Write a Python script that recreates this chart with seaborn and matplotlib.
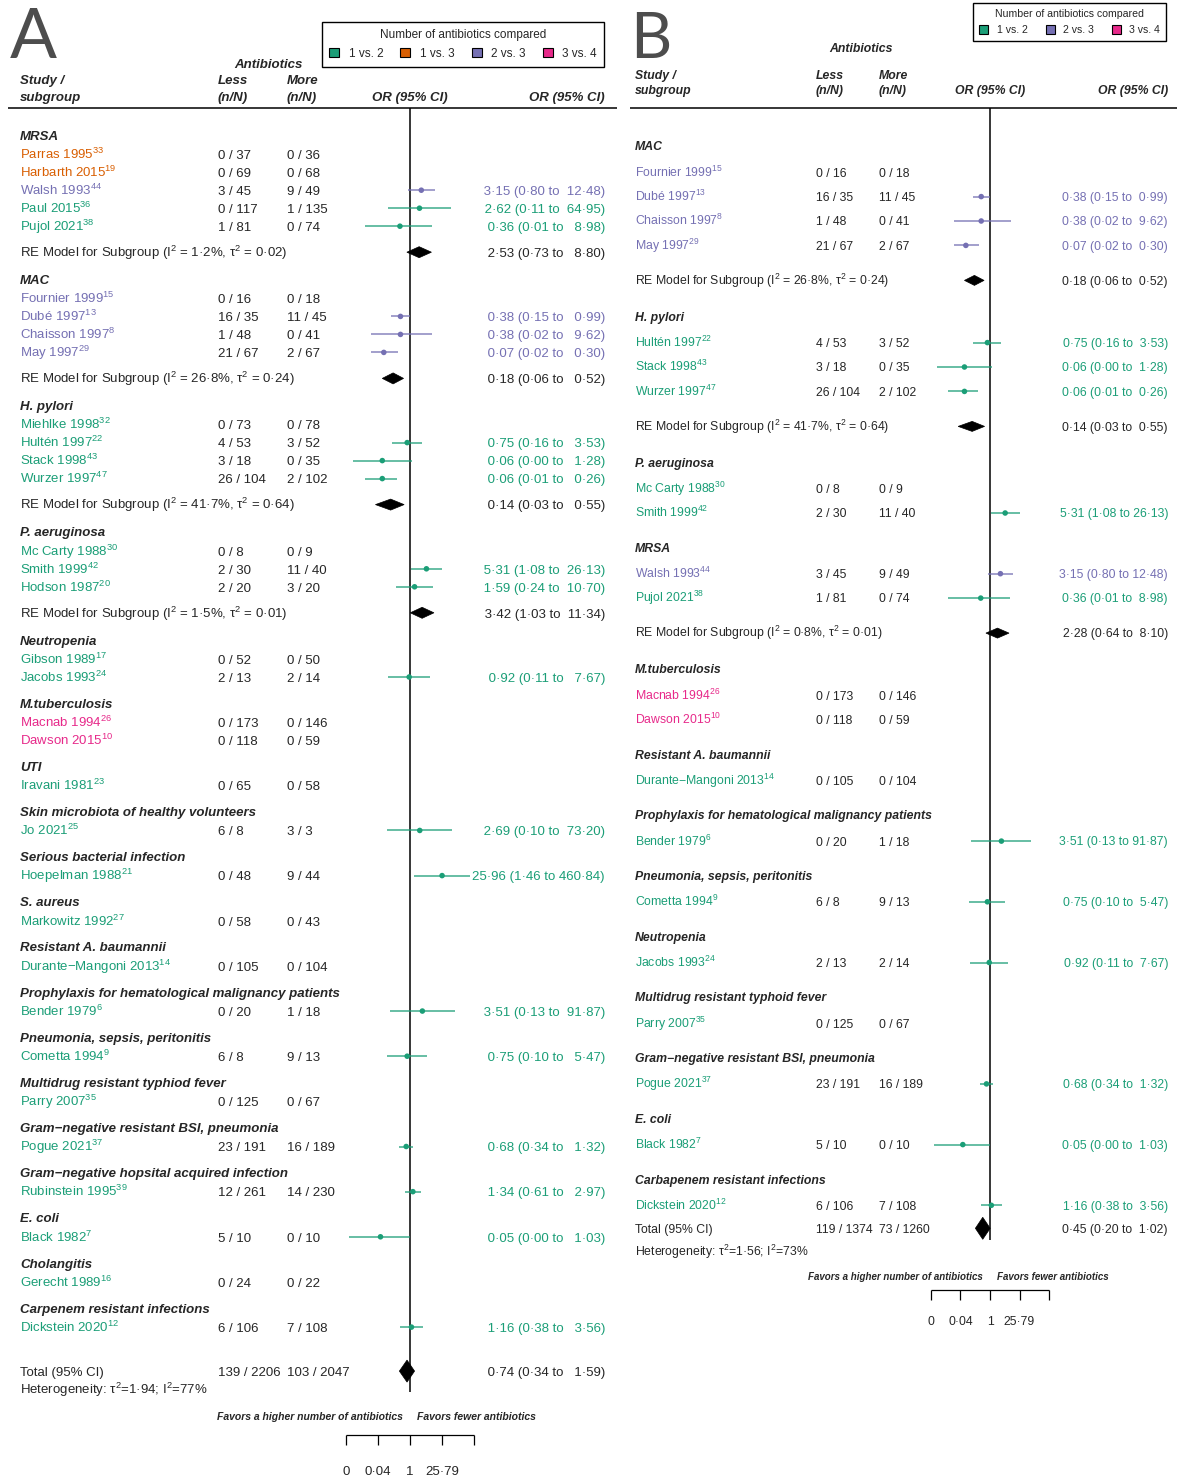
import numpy as np
import pandas as pd
import matplotlib
matplotlib.use("Agg")
import matplotlib.pyplot as plt
from matplotlib.patches import Polygon, Patch
import seaborn as sns

sns.set_style('white')
plt.rcParams['font.family'] = ['Liberation Sans', 'DejaVu Sans']
plt.rcParams['mathtext.fontset'] = 'custom'
plt.rcParams['mathtext.rm'] = 'Liberation Sans'
plt.rcParams['mathtext.default'] = 'regular'

nan = np.nan
comp_colors = {"1 vs. 2": "#1b9e77", "1 vs. 3": "#d95f02",
               "2 vs. 3": "#7570b3", "3 vs. 4": "#e7298a"}

# ---------------- panel A data ----------------
a_sub = ["MRSA", "MAC", "H. pylori", "P. aeruginosa", "Neutropenia", "M.tuberculosis", "UTI",
         "Skin microbiota of healthy volunteers", "Serious bacterial infection", "S. aureus",
         "Resistant A. baumannii", "Prophylaxis for hematological malignancy patients",
         "Pneumonia, sepsis, peritonitis", "Multidrug resistant typhiod fever",
         "Gram−negative resistant BSI, pneumonia", "Gram−negative hopsital acquired infection",
         "E. coli", "Cholangitis", "Carpenem resistant infections"]
a_study = ["Parras 1995", "Harbarth 2015", "Walsh 1993", "Paul 2015", "Pujol 2021",
           "Fournier 1999", "Dubé 1997", "Chaisson 1997", "May 1997",
           "Miehlke 1998", "Hultén 1997", "Stack 1998", "Wurzer 1997",
           "Mc Carty 1988", "Smith 1999", "Hodson 1987", "Gibson 1989", "Jacobs 1993",
           "Macnab 1994", "Dawson 2015", "Iravani 1981", "Jo 2021", "Hoepelman 1988",
           "Markowitz 1992", "Durante−Mangoni 2013", "Bender 1979", "Cometta 1994",
           "Parry 2007", "Pogue 2021", "Rubinstein 1995", "Black 1982", "Gerecht 1989",
           "Dickstein 2020"]
a_group = [0, 0, 0, 0, 0, 1, 1, 1, 1, 2, 2, 2, 2, 3, 3, 3, 4, 4, 5, 5, 6, 7, 8, 9, 10,
           11, 12, 13, 14, 15, 16, 17, 18]
a_ref = [33, 19, 44, 36, 38, 15, 13, 8, 29, 32, 22, 43, 47, 30, 42, 20, 17, 24, 26, 10,
         23, 25, 21, 27, 14, 6, 9, 35, 37, 39, 7, 16, 12]
a_comp = ["1 vs. 3", "1 vs. 3", "2 vs. 3", "1 vs. 2", "1 vs. 2",
          "2 vs. 3", "2 vs. 3", "2 vs. 3", "2 vs. 3",
          "1 vs. 2", "1 vs. 2", "1 vs. 2", "1 vs. 2", "1 vs. 2", "1 vs. 2", "1 vs. 2",
          "1 vs. 2", "1 vs. 2", "3 vs. 4", "3 vs. 4"] + ["1 vs. 2"] * 13
a_less_n = [0, 0, 3, 0, 1, 0, 16, 1, 21, 0, 4, 3, 26, 0, 2, 2, 0, 2, 0, 0, 0, 6, 0, 0, 0,
            0, 6, 0, 23, 12, 5, 0, 6]
a_less_N = [37, 69, 45, 117, 81, 16, 35, 48, 67, 73, 53, 18, 104, 8, 30, 20, 52, 13, 173,
            118, 65, 8, 48, 58, 105, 20, 8, 125, 191, 261, 10, 24, 106]
a_more_n = [0, 0, 9, 1, 0, 0, 11, 0, 2, 0, 3, 0, 2, 0, 11, 3, 0, 2, 0, 0, 0, 3, 9, 0, 0,
            1, 9, 0, 16, 14, 0, 0, 7]
a_more_N = [36, 68, 49, 135, 74, 18, 45, 41, 67, 78, 52, 35, 102, 9, 40, 20, 50, 14, 146,
            59, 58, 3, 44, 43, 104, 18, 13, 67, 189, 230, 10, 22, 108]
a_or = [nan, nan, 3.15, 2.62, 0.36, nan, 0.38, 0.38, 0.07, nan, 0.75, 0.06, 0.06, nan,
        5.31, 1.59, nan, 0.92, nan, nan, nan, 2.69, 25.96, nan, nan, 3.51, 0.75, nan,
        0.68, 1.34, 0.05, nan, 1.16]
a_lo = [nan, nan, 0.80, 0.11, 0.01, nan, 0.15, 0.02, 0.02, nan, 0.16, 0.003, 0.01, nan,
        1.08, 0.24, nan, 0.11, nan, nan, nan, 0.10, 1.46, nan, nan, 0.13, 0.10, nan,
        0.34, 0.61, 0.002, nan, 0.38]
a_hi = [nan, nan, 12.48, 64.95, 8.98, nan, 0.99, 9.62, 0.30, nan, 3.53, 1.28, 0.26, nan,
        26.13, 10.70, nan, 7.67, nan, nan, nan, 73.20, 460.84, nan, nan, 91.87, 5.47, nan,
        1.32, 2.97, 1.03, nan, 3.56]
a_re_group = [0, 1, 2, 3]
a_re_i2 = [1.2, 26.8, 41.7, 1.5]
a_re_tau2 = [0.02, 0.24, 0.64, 0.01]
a_re_or = [2.53, 0.18, 0.14, 3.42]
a_re_lo = [0.73, 0.06, 0.03, 1.03]
a_re_hi = [8.80, 0.52, 0.55, 11.34]
a_total = dict(less=(139, 2206), more=(103, 2047), est=0.74, lo=0.34, hi=1.59, tau2=1.94, i2=77)

# ---------------- panel B data ----------------
b_sub = ["MAC", "H. pylori", "P. aeruginosa", "MRSA", "M.tuberculosis", "Resistant A. baumannii",
         "Prophylaxis for hematological malignancy patients", "Pneumonia, sepsis, peritonitis",
         "Neutropenia", "Multidrug resistant typhoid fever",
         "Gram−negative resistant BSI, pneumonia", "E. coli", "Carbapenem resistant infections"]
b_study = ["Fournier 1999", "Dubé 1997", "Chaisson 1997", "May 1997", "Hultén 1997",
           "Stack 1998", "Wurzer 1997", "Mc Carty 1988", "Smith 1999", "Walsh 1993",
           "Pujol 2021", "Macnab 1994", "Dawson 2015", "Durante−Mangoni 2013", "Bender 1979",
           "Cometta 1994", "Jacobs 1993", "Parry 2007", "Pogue 2021", "Black 1982",
           "Dickstein 2020"]
b_group = [0, 0, 0, 0, 1, 1, 1, 2, 2, 3, 3, 4, 4, 5, 6, 7, 8, 9, 10, 11, 12]
b_ref = [15, 13, 8, 29, 22, 43, 47, 30, 42, 44, 38, 26, 10, 14, 6, 9, 24, 35, 37, 7, 12]
b_comp = ["2 vs. 3"] * 4 + ["1 vs. 2"] * 5 + ["2 vs. 3", "1 vs. 2", "3 vs. 4", "3 vs. 4"] + \
         ["1 vs. 2"] * 8
b_less_n = [0, 16, 1, 21, 4, 3, 26, 0, 2, 3, 1, 0, 0, 0, 0, 6, 2, 0, 23, 5, 6]
b_less_N = [16, 35, 48, 67, 53, 18, 104, 8, 30, 45, 81, 173, 118, 105, 20, 8, 13, 125, 191,
            10, 106]
b_more_n = [0, 11, 0, 2, 3, 0, 2, 0, 11, 9, 0, 0, 0, 0, 1, 9, 2, 0, 16, 0, 7]
b_more_N = [18, 45, 41, 67, 52, 35, 102, 9, 40, 49, 74, 146, 59, 104, 18, 13, 14, 67, 189,
            10, 108]
b_or = [nan, 0.38, 0.38, 0.07, 0.75, 0.06, 0.06, nan, 5.31, 3.15, 0.36, nan, nan, nan,
        3.51, 0.75, 0.92, nan, 0.68, 0.05, 1.16]
b_lo = [nan, 0.15, 0.02, 0.02, 0.16, 0.003, 0.01, nan, 1.08, 0.80, 0.01, nan, nan, nan,
        0.13, 0.10, 0.11, nan, 0.34, 0.002, 0.38]
b_hi = [nan, 0.99, 9.62, 0.30, 3.53, 1.28, 0.26, nan, 26.13, 12.48, 8.98, nan, nan, nan,
        91.87, 5.47, 7.67, nan, 1.32, 1.03, 3.56]
b_re_group = [0, 1, 3]
b_re_i2 = [26.8, 41.7, 0.8]
b_re_tau2 = [0.24, 0.64, 0.01]
b_re_or = [0.18, 0.14, 2.28]
b_re_lo = [0.06, 0.03, 0.64]
b_re_hi = [0.52, 0.55, 8.10]
b_total = dict(less=(119, 1374), more=(73, 1260), est=0.45, lo=0.20, hi=1.02, tau2=1.56, i2=73)

tick_log = [-6.5, -3.25, 0, 3.25, 6.5]
tick_labels = ["0", "0·04", "1", "25·79", ""]

W, H = 1177, 1477
fig = plt.figure(figsize=(W / 100, H / 100), dpi=100)
bg = fig.add_axes([0, 0, 1, 1])
bg.set_xlim(0, W)
bg.set_ylim(H, 0)
bg.axis('off')


def f2(v):
    return f"{v:.2f}".replace(".", "·")


def f1(v):
    return f"{v:.1f}".replace(".", "·")


def draw_panel(P, L):
    fs = L['fs']
    base = 0.36 * fs * 100 / 72
    half = 80
    fax = fig.add_axes([(L['center'] - half) / W, 0, 2 * half / W, 1])
    fax.patch.set_alpha(0)

    # row order
    rows = []
    group = np.array(P['group'])
    for g in range(len(P['sub'])):
        rows.append(("head", g))
        for i in np.where(group == g)[0]:
            rows.append(("study", i))
        if g in P['re_group']:
            rows.append(("re", P['re_group'].index(g)))
    rows.append(("total", 0))
    rows.append(("het", 0))
    ys = []
    y, prev = L['y0'], None
    for kind, _ in rows:
        if prev is not None:
            y += L['steps'][(prev, kind)]
        ys.append(y)
        prev = kind

    # widths for CI column
    ests = [v for v in P['or'] if not np.isnan(v)] + P['re_or'] + [P['total']['est']]
    los = [v for v in P['lo'] if not np.isnan(v)] + P['re_lo'] + [P['total']['lo']]
    his = [v for v in P['hi'] if not np.isnan(v)] + P['re_hi'] + [P['total']['hi']]
    w1 = max(len(f2(v)) for v in ests)
    w2 = max(len(f2(v)) for v in los)
    w3 = max(len(f2(v)) for v in his)

    def ci_text(e, l, h):
        return f"{f2(e):>{w1}} ({f2(l):>{w2}} to {f2(h):>{w3}})"

    def txt(x, y, s, **kw):
        kw.setdefault('fontsize', fs)
        bg.text(x, y + base, s, va='baseline', **kw)

    def diamond(y, e, l, h, hh):
        fax.add_patch(Polygon([(l, y), (e, y - hh), (h, y), (e, y + hh)], closed=True,
                              facecolor='black', edgecolor='black', lw=0.5, zorder=4))

    pts = []
    for (kind, i), y in zip(rows, ys):
        if kind == "head":
            txt(L['x_study'], y, P['sub'][i], fontweight='bold', style='italic')
        elif kind == "study":
            col = comp_colors[P['comp'][i]]
            txt(L['x_study'], y, f"{P['study'][i]}$^{{{P['ref'][i]}}}$", color=col)
            txt(L['x_less'], y, f"{P['less_n'][i]} / {P['less_N'][i]}")
            txt(L['x_more'], y, f"{P['more_n'][i]} / {P['more_N'][i]}")
            if not np.isnan(P['or'][i]):
                fax.hlines(y, P['lo'][i], P['hi'][i], color=col, lw=1.1, alpha=0.85, zorder=2)
                pts.append((P['or'][i], y, P['comp'][i]))
                txt(L['x_ci'], y, ci_text(P['or'][i], P['lo'][i], P['hi'][i]), color=col,
                    ha='right')
        elif kind == "re":
            txt(L['x_study'], y, f"RE Model for Subgroup (I$^2$ = {f1(P['re_i2'][i])}%, "
                                 f"τ$^2$ = {f2(P['re_tau2'][i])})")
            diamond(y, P['re_or'][i], P['re_lo'][i], P['re_hi'][i], L['re_h'])
            txt(L['x_ci'], y, ci_text(P['re_or'][i], P['re_lo'][i], P['re_hi'][i]), ha='right')
        elif kind == "total":
            T = P['total']
            txt(L['x_study'], y, "Total (95% CI)")
            txt(L['x_less'], y, f"{T['less'][0]} / {T['less'][1]}")
            txt(L['x_more'], y, f"{T['more'][0]} / {T['more'][1]}")
            diamond(y, T['est'], T['lo'], T['hi'], L['tot_h'])
            txt(L['x_ci'], y, ci_text(T['est'], T['lo'], T['hi']), ha='right')
        else:
            T = P['total']
            txt(L['x_study'], y, f"Heterogeneity: τ$^2$={f2(T['tau2'])}; I$^2$={T['i2']}%")

    df = pd.DataFrame(pts, columns=['or', 'y', 'comp'])
    sns.scatterplot(data=df, x='or', y='y', hue='comp', palette=comp_colors, s=16,
                    edgecolor='none', legend=False, ax=fax, zorder=3)
    fax.set_xscale('log')
    span = half / L['px_per']
    fax.set_xlim(np.exp(-span), np.exp(span))
    fax.set_ylim(H, 0)
    fax.axis('off')

    # reference line at OR = 1
    fax.vlines(1, 108, L['vline_end'], color='black', lw=1.1, zorder=1)

    # bottom axis
    tv = np.exp(tick_log)
    ya = L['y_axis']
    fax.hlines(ya, tv[0], tv[-1], color='black', lw=0.9)
    fax.vlines(tv, ya, ya + 10, color='black', lw=0.9)
    for t, lab in zip(tv, tick_labels):
        fax.text(t, L['y_ticklab'] + base, lab, ha='center', va='baseline', fontsize=fs)
    bg.text(L['center'] - 7, L['y_favor'], "Favors a higher number of antibiotics",
            ha='right', va='center', fontsize=L['fs_favor'], fontweight='bold', style='italic')
    bg.text(L['center'] + 7, L['y_favor'], "Favors fewer antibiotics",
            ha='left', va='center', fontsize=L['fs_favor'], fontweight='bold', style='italic')

    # header
    hb = dict(fontweight='bold', style='italic')
    txt(L['center_ab'], L['y_ab'], "Antibiotics", ha='center', **hb)
    txt(L['x_study'], L['y_h1'], "Study /", **hb)
    txt(L['x_study'], L['y_h2'], "subgroup", **hb)
    txt(L['x_less'], L['y_h1'], "Less", **hb)
    txt(L['x_less'], L['y_h2'], "(n/N)", **hb)
    txt(L['x_more'], L['y_h1'], "More", **hb)
    txt(L['x_more'], L['y_h2'], "(n/N)", **hb)
    txt(L['center'], L['y_h2'], "OR (95% CI)", ha='center', **hb)
    txt(L['x_ci'], L['y_h2'], "OR (95% CI)", ha='right', **hb)
    bg.hlines(108, L['line'][0], L['line'][1], color='black', lw=1.1)
    bg.text(L['letter_x'], 58, L['letter'], fontsize=L['letter_fs'], family='Lato',
            color='#4d4d4d', va='baseline')

    # legend
    handles = [Patch(facecolor=comp_colors[k], edgecolor='black', lw=0.8) for k in P['legend']]
    leg = fig.legend(handles, P['legend'], title="Number of antibiotics compared",
                     loc='upper left', bbox_to_anchor=(L['leg'][0] / W, 1 - L['leg'][1] / H),
                     borderaxespad=0,
                     ncol=len(P['legend']), fontsize=L['fs_leg'], title_fontsize=L['fs_leg'],
                     handlelength=0.85, handleheight=0.85, handletextpad=0.8,
                     columnspacing=L['colsp'], borderpad=0.6, labelspacing=0.55,
                     fancybox=False, edgecolor='black', framealpha=1)
    leg.get_frame().set_linewidth(1.0)
    return leg


PA = dict(sub=a_sub, study=a_study, group=a_group, ref=a_ref, comp=a_comp,
          less_n=a_less_n, less_N=a_less_N, more_n=a_more_n, more_N=a_more_N,
          or_=None, lo=a_lo, hi=a_hi, re_group=a_re_group, re_i2=a_re_i2, re_tau2=a_re_tau2,
          re_or=a_re_or, re_lo=a_re_lo, re_hi=a_re_hi, total=a_total,
          legend=["1 vs. 2", "1 vs. 3", "2 vs. 3", "3 vs. 4"])
PA['or'] = a_or
PB = dict(sub=b_sub, study=b_study, group=b_group, ref=b_ref, comp=b_comp,
          less_n=b_less_n, less_N=b_less_N, more_n=b_more_n, more_N=b_more_N,
          or_=None, lo=b_lo, hi=b_hi, re_group=b_re_group, re_i2=b_re_i2, re_tau2=b_re_tau2,
          re_or=b_re_or, re_lo=b_re_lo, re_hi=b_re_hi, total=b_total,
          legend=["1 vs. 2", "2 vs. 3", "3 vs. 4"])
PB['or'] = b_or

LA = dict(x_study=20, x_less=218, x_more=287, x_ci=605, center=410, px_per=9.85, fs=9.5,
          y0=135, re_h=5.5, tot_h=11, vline_end=1392, y_axis=1435, y_ticklab=1470,
          y_favor=1417, fs_favor=7.5, center_ab=268, y_ab=63, y_h1=79, y_h2=96,
          line=(8, 617), letter='A', letter_x=10, letter_fs=50, leg=(322, 22), fs_leg=8.5,
          colsp=1.45,
          steps={('head', 'study'): 19.2, ('study', 'study'): 18.0, ('study', 're'): 26,
                 ('re', 'head'): 27, ('study', 'head'): 25.95, ('study', 'total'): 44,
                 ('total', 'het'): 18})
LB = dict(x_study=635, x_less=816, x_more=879, x_ci=1168, center=990, px_per=9.08, fs=8.8,
          y0=146, re_h=5, tot_h=11, vline_end=1240, y_axis=1290, y_ticklab=1321,
          y_favor=1277, fs_favor=7, center_ab=861, y_ab=48, y_h1=75, y_h2=90,
          line=(630, 1177), letter='B', letter_x=630, letter_fs=46, leg=(973, 3), fs_leg=7.6,
          colsp=1.7,
          steps={('head', 'study'): 26.2, ('study', 'study'): 24.4, ('study', 're'): 35,
                 ('re', 'head'): 36, ('study', 'head'): 34.5, ('study', 'total'): 23,
                 ('total', 'het'): 23})

draw_panel(PA, LA)
draw_panel(PB, LB)

fig.savefig("out.png", dpi=100)
